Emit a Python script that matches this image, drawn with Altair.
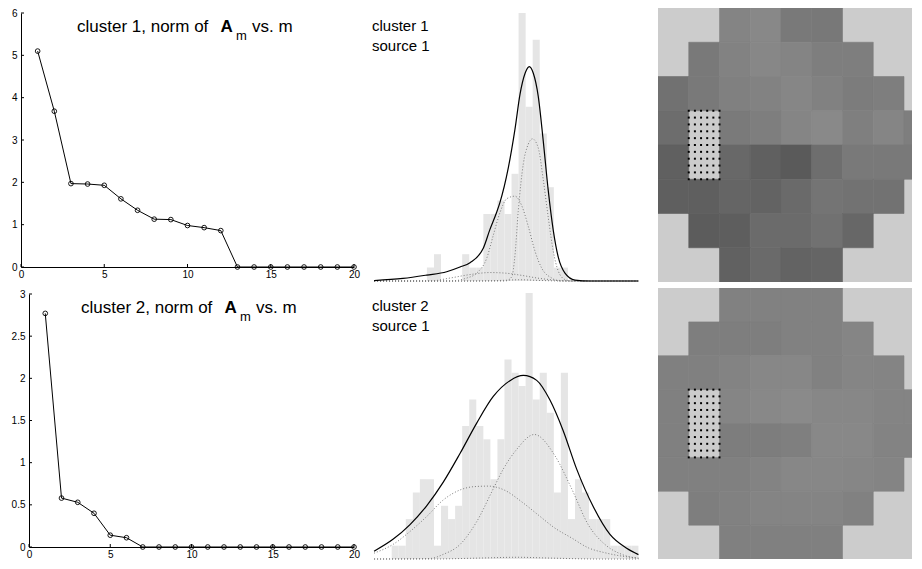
import altair as alt
import pandas as pd

FONT = "Liberation Sans"

# ---------------- left column: norm of A_m vs m ----------------
m_vals = list(range(1, 21))
norm_c1 = [5.10, 3.68, 1.97, 1.96, 1.93, 1.61, 1.34, 1.13, 1.12, 0.98,
           0.93, 0.86, 0, 0, 0, 0, 0, 0, 0, 0]
norm_c2 = [2.77, 0.58, 0.53, 0.40, 0.14, 0.11, 0, 0, 0, 0,
           0, 0, 0, 0, 0, 0, 0, 0, 0, 0]
x_ticks = [0, 5, 10, 15, 20]
y_ticks_c1 = [0, 1, 2, 3, 4, 5, 6]
y_ticks_c2 = [0, 0.5, 1, 1.5, 2, 2.5, 3]

# ---------------- middle column: histograms + fitted densities ----------------
bin_index = list(range(35))
counts_c1 = [0, 0, 0, 0, 0, 1, 2, 0, 0, 0, 2, 1, 1, 5, 5, 6, 5, 8, 20, 13,
             18, 11, 7, 1, 1, 0, 0, 0, 0, 0, 0, 0, 0, 0, 0]
counts_c2 = [1, 1, 3, 5, 6, 6, 1, 4, 3, 4, 10, 12, 10, 9, 6, 9, 15, 14, 13, 20,
             12, 14, 11, 5, 14, 3, 6, 5, 3, 3, 3, 1, 1, 1, 1]

c1_total_x = [-2.5, 1.6, 4.96, 7.8, 9.69, 11.11, 12.99, 13.94, 14.89, 15.36, 16.54, 17.49,
              18.2, 18.91, 19.52, 20.09, 20.79, 21.5, 22.21, 22.92, 23.63, 24.58, 26.0, 28.13, 35.0]
c1_total_y = [0.03, 0.19, 0.44, 0.69, 1.04, 1.37, 2.44, 3.85, 5.13, 5.87, 8.44, 11.33,
              13.93, 15.48, 16.0, 15.5, 13.78, 10.44, 6.74, 3.78, 1.78, 0.59, 0.07, 0.0, 0.0]
c1_comp1_x = [-2.5, 16.07, 17.02, 17.49, 17.96, 18.67, 19.38, 19.97, 20.79, 21.5, 22.21,
              22.92, 23.63, 24.58, 25.57, 35.0]
c1_comp1_y = [0, 0, 0.30, 1.93, 5.26, 8.74, 10.22, 10.61, 9.93, 7.56, 4.74,
              2.22, 0.74, 0.11, 0, 0]
c1_comp2_x = [-2.5, 8.27, 10.64, 12.06, 13.48, 14.41, 15.36, 16.35, 17.49, 18.44, 19.38,
              20.33, 21.28, 22.7, 23.87, 35.0]
c1_comp2_y = [0, 0, 0.22, 0.59, 1.70, 3.41, 5.11, 6.15, 6.33, 5.63, 4.07,
              2.22, 0.96, 0.22, 0, 0]
c1_comp3_x = [-2.5, 5.43, 8.27, 11.11, 13.94, 16.07, 18.2, 21.04, 23.87, 26.0, 35.0]
c1_comp3_y = [0, 0, 0.22, 0.48, 0.63, 0.59, 0.44, 0.19, 0.04, 0, 0]
c1_comp4_x = [-2.5, 11.11, 15.36, 18.2, 21.04, 24.58, 35.0]
c1_comp4_y = [0, 0, 0.04, 0.09, 0.04, 0, 0]

c2_total_x = [-2.5, 0.18, 2.6, 4.96, 7.32, 9.69, 12.06, 14.41, 16.78, 18.67, 20.57, 22.45,
              24.34, 26.24, 28.6, 30.96, 33.33, 35.0]
c2_total_y = [0.59, 1.48, 2.59, 4.0, 5.78, 7.93, 10.22, 12.22, 13.41, 13.8, 13.43, 11.95,
              9.63, 6.76, 3.93, 1.85, 0.81, 0.33]
c2_comp1_x = [-2.5, 5.43, 7.32, 9.69, 12.06, 14.41, 15.83, 17.73, 20.23, 23.16, 25.53,
              27.89, 30.26, 32.62, 35.0]
c2_comp1_y = [0, 0.04, 0.35, 1.09, 2.81, 5.28, 6.76, 8.24, 9.36, 7.76, 5.28,
              2.57, 1.09, 0.35, 0.05]
c2_comp2_x = [-2.5, 0.23, 2.6, 4.96, 7.32, 9.69, 11.67, 13.7, 16.07, 18.44, 20.79, 23.16,
              25.53, 27.89, 30.26, 32.62, 35.0]
c2_comp2_y = [0.44, 1.11, 2.07, 3.19, 4.44, 5.19, 5.44, 5.48, 5.16, 4.30, 3.31, 2.32,
              1.58, 0.84, 0.47, 0.22, 0.07]
c2_comp3_x = [-2.5, 5.43, 12.5, 17.7, 22.4, 29.5, 35.0]
c2_comp3_y = [0, 0, 0.07, 0.13, 0.07, 0, 0]

# ---------------- right column: channel maps (gray level 0-255, None = outside) ----------------
heat_c1 = [
    [None, None, 132, 136, 121, 120, None, None, None],
    [None, 121, 130, 135, 132, 126, 126, None, None],
    [113, 121, 128, 130, 134, 129, 124, 126, None],
    [109, None, 122, 126, 133, 137, 127, 133, 126],
    [96, None, 104, 96, 90, 110, 121, 121, 121],
    [95, 95, 101, 99, 106, 116, 114, 114, None],
    [None, 92, 94, 107, 107, 113, 103, None, None],
    [None, None, 97, 106, 99, 101, None, None, None],
]
heat_c2 = [
    [None, None, 129, 129, 129, 129, None, None, None],
    [None, 126, 126, 126, 129, 129, 133, None, None],
    [128, 128, 131, 135, 135, 129, 133, 132, None],
    [128, None, 133, 136, 138, 135, 135, 132, 132],
    [128, None, 125, 125, 127, 136, 136, 131, 131],
    [128, 128, 128, 131, 135, 135, 134, 132, None],
    [None, 126, 129, 132, 132, 132, 129, None, None],
    [None, None, 128, 128, 128, 128, None, None, None],
]
selected_col = 1
selected_rows = [3, 4]

# ======================================================================
AX = dict(title=None, grid=False, ticks=False, tickSize=0, labelFlush=False, format="~g",
          domainColor="black", domainWidth=1, labelColor="black", labelFont=FONT,
          labelFontSize=10, labelOverlap=False)


def line_panel(values, yticks, ymax, width, height, x0, ytop, num, text_base):
    df = pd.DataFrame({"m": m_vals, "norm": values})
    xs = alt.Scale(domain=[0, 20], range=[x0, width], nice=False, zero=False)
    ys = alt.Scale(domain=[0, ymax], range=[height, ytop], nice=False, zero=False)
    xa = alt.Axis(values=x_ticks, labelPadding=2, **AX)
    ya = alt.Axis(values=yticks, labelPadding=4, offset=-x0, **AX)
    enc = dict(x=alt.X("m:Q", scale=xs, axis=xa), y=alt.Y("norm:Q", scale=ys, axis=ya))
    line = alt.Chart(df).mark_line(color="black", strokeWidth=1).encode(**enc)
    pts = alt.Chart(df).mark_point(shape="circle", filled=False, color="black", size=22,
                                   strokeWidth=0.9, opacity=1).encode(**enc)
    xt = alt.Chart(pd.DataFrame({"t": x_ticks})).mark_rule(color="black", strokeWidth=1).encode(
        x=alt.X("t:Q", scale=xs, axis=xa), y=alt.value(height), y2=alt.value(height - 3))
    yt = alt.Chart(pd.DataFrame({"t": yticks})).mark_rule(color="black", strokeWidth=1).encode(
        y=alt.Y("t:Q", scale=ys, axis=ya), x=alt.value(x0), x2=alt.value(x0 + 3))
    cx = (x0 + width) / 2.0
    parts = [(f"cluster {num}, norm of", -110.5, 0, 17, "normal"),
             ("A", 33.0, 0, 17, "bold"),
             ("m", 48.5, 8, 13, "normal"),
             ("vs. m", 64.5, 0, 17, "normal")]
    texts = []
    for s, dx, dy, fs, fw in parts:
        texts.append(alt.Chart(pd.DataFrame({"s": [s]})).mark_text(
            align="left", baseline="alphabetic", font=FONT, fontSize=fs, fontWeight=fw,
            color="black").encode(text="s:N", x=alt.value(cx + dx), y=alt.value(text_base + dy)))
    return alt.layer(line, pts, xt, yt, *texts).properties(width=width, height=height)


def hist_panel(counts, curves, num, width, height):
    hdf = pd.DataFrame({"bin": bin_index, "count": counts})
    xs = alt.Scale(domain=[-2.65, 35.08], nice=False, zero=False)
    ys = alt.Scale(domain=[0, 20], range=[height, 5], nice=False, zero=False)
    bars = alt.Chart(hdf).transform_filter("datum.count > 0").transform_calculate(
        bin_end="datum.bin + 1").mark_rect(color="#e5e5e5").encode(
        x=alt.X("bin:Q", scale=xs, axis=None), x2="bin_end:Q",
        y=alt.Y("count:Q", scale=ys, axis=None), y2=alt.datum(0))
    rows = []
    for name, xv, yv in curves:
        for a, b in zip(xv, yv):
            rows.append({"comp": name, "x": a, "y": b})
    cdf = pd.DataFrame(rows)
    comps = alt.Chart(cdf).transform_filter("datum.comp != 'total'").mark_line(
        color="#7a7a7a", strokeWidth=1, strokeDash=[1, 2], interpolate="monotone").encode(
        x=alt.X("x:Q", scale=xs, axis=None), y=alt.Y("y:Q", scale=ys, axis=None), detail="comp:N")
    total = alt.Chart(cdf).transform_filter("datum.comp == 'total'").mark_line(
        color="black", strokeWidth=1.2, interpolate="monotone").encode(
        x=alt.X("x:Q", scale=xs, axis=None), y=alt.Y("y:Q", scale=ys, axis=None))
    t1 = alt.Chart(pd.DataFrame({"s": [f"cluster {num}"]})).mark_text(
        align="left", baseline="alphabetic", font=FONT, fontSize=15, color="black").encode(
        text="s:N", x=alt.value(-1), y=alt.value(23))
    t2 = alt.Chart(pd.DataFrame({"s": ["source 1"]})).mark_text(
        align="left", baseline="alphabetic", font=FONT, fontSize=15, color="black").encode(
        text="s:N", x=alt.value(-1), y=alt.value(43))
    return alt.layer(bars, comps, total, t1, t2).properties(width=width, height=height)


def heat_panel(grid, width, height):
    rows = []
    for r, line in enumerate(grid):
        for c, v in enumerate(line):
            if v is not None:
                rows.append({"row": r, "col": c, "v": v})
    df = pd.DataFrame(rows)
    xs = alt.Scale(domain=[0, width / 30.75], nice=False, zero=False)
    ys = alt.Scale(domain=[0, 8], reverse=True, nice=False, zero=False)
    gray = alt.Scale(domain=[0, 255], range=["#000000", "#ffffff"], interpolate="rgb")
    cells = alt.Chart(df).transform_calculate(c2="datum.col + 1", r2="datum.row + 1").mark_rect(
        clip=True, strokeWidth=0.6).encode(
        x=alt.X("col:Q", scale=xs, axis=None), x2="c2:Q",
        y=alt.Y("row:Q", scale=ys, axis=None), y2="r2:Q",
        color=alt.Color("v:Q", scale=gray, legend=None),
        stroke=alt.Stroke("v:Q", scale=gray, legend=None))
    r0, r1 = selected_rows[0], selected_rows[-1] + 1
    dots = pd.DataFrame([{"x": selected_col + i / 5.0, "y": r0 + j * (r1 - r0) / 10.0}
                         for i in range(6) for j in range(11)])
    dot_layer = alt.Chart(dots).mark_square(size=4, color="black", opacity=1).encode(
        x=alt.X("x:Q", scale=xs, axis=None), y=alt.Y("y:Q", scale=ys, axis=None))
    return alt.layer(cells, dot_layer).properties(
        width=width, height=height, view=alt.ViewBackground(fill="#cccccc", strokeWidth=0))


A = line_panel(norm_c1, y_ticks_c1, 6, 333, 259, 0, 5, 1, 24)
B = hist_panel(counts_c1, [("total", c1_total_x, c1_total_y), ("c1", c1_comp1_x, c1_comp1_y),
                           ("c2", c1_comp2_x, c1_comp2_y), ("c3", c1_comp3_x, c1_comp3_y),
                           ("c4", c1_comp4_x, c1_comp4_y)], 1, 266, 273)
C = heat_panel(heat_c1, 254, 274)
D = line_panel(norm_c2, y_ticks_c2, 3, 333, 259, 8, 6, 2, 25)
E = hist_panel(counts_c2, [("total", c2_total_x, c2_total_y), ("c1", c2_comp1_x, c2_comp1_y),
                           ("c2", c2_comp2_x, c2_comp2_y), ("c3", c2_comp3_x, c2_comp3_y)], 2, 266, 271)
F = heat_panel(heat_c2, 254, 271)

chart = alt.concat(A, B, C, D, E, F, columns=3, spacing={"row": 6, "column": 19},
                   bounds="flush", align="each").properties(
    padding={"left": 3, "top": 0, "right": 0, "bottom": 0}, background="white"
).configure(font=FONT).configure_view(strokeWidth=0)

chart.save("out.html", embed_options={"renderer": "svg", "actions": False})
